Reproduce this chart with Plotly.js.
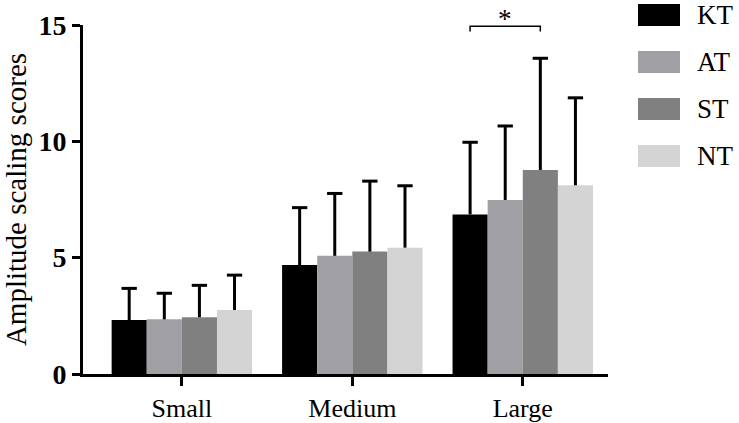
<!DOCTYPE html>
<html>
<head>
<meta charset="utf-8">
<script src="https://cdn.plot.ly/plotly-3.0.1.min.js"></script>
<style>html,body{margin:0;padding:0;background:#fff;}#chart{width:739px;height:423px;}</style>
</head>
<body>
<div id="chart"></div>
<script>
const categories = ["Small", "Medium", "Large"];
const seriesNames = ["KT", "AT", "ST", "NT"];
const KT = [2.32, 4.68, 6.86];
const AT = [2.35, 5.08, 7.48];
const ST = [2.44, 5.26, 8.77];
const NT = [2.75, 5.43, 8.11];
const KT_err = [1.36, 2.47, 3.10];
const AT_err = [1.12, 2.68, 3.18];
const ST_err = [1.37, 3.03, 4.80];
const NT_err = [1.50, 2.66, 3.76];
const yTicks = [0, 5, 10, 15];
const sigLabel = "*";

const values = [KT, AT, ST, NT];
const errs = [KT_err, AT_err, ST_err, NT_err];
const colors = ["#000000", "#a0a0a4", "#808080", "#d4d4d4"];
const serif = "Liberation Serif, Times New Roman, serif";
const bargap = 0.176;
const w = (1 - bargap) / 4;
const capHalf = 0.045;

const traces = seriesNames.map((n, i) => ({
  type: "bar", name: n, x: categories, y: values[i],
  marker: {color: colors[i], line: {width: 0}},
  error_y: {type: "data", symmetric: false, array: errs[i], arrayminus: values[i].map(() => 0),
            color: "#000", thickness: 3, width: 0},
  showlegend: false
}));

const shapes = [];
// error bar caps, positioned from the data on the category axis
values.forEach((vals, i) => {
  vals.forEach((v, j) => {
    const xc = j + (i - 1.5) * w;
    const top = v + errs[i][j];
    shapes.push({type: "line", xref: "x", yref: "y", x0: xc - capHalf, x1: xc + capHalf,
      y0: top, y1: top, line: {color: "#000", width: 3}});
  });
});

// significance bracket between KT and ST in "Large"
const gi = categories.indexOf("Large");
const xa = gi + (0 - 1.5) * w, xb = gi + (2 - 1.5) * w;
shapes.push({
  type: "path", xref: "x", yref: "y",
  path: `M ${xa},14.72 L ${xa},14.95 L ${xb},14.95 L ${xb},14.72`,
  line: {color: "#000", width: 1.5}
});
const annotations = [{
  x: (xa + xb) / 2, y: 1.018, xref: "x", yref: "paper", text: sigLabel, showarrow: false,
  yanchor: "middle", font: {family: serif, size: 27, color: "#000"}
}];

// manual legend (large swatches)
const legTop = [4, 51, 98, 145];
const pH = 349, pW = 525, t = 25;
seriesNames.forEach((n, i) => {
  const y0 = 1 - (legTop[i] + 22 - t) / pH, y1 = 1 - (legTop[i] - t) / pH;
  shapes.push({type: "rect", xref: "paper", yref: "paper",
    x0: (638 - 83) / pW, x1: (680 - 83) / pW, y0: y0, y1: y1,
    fillcolor: colors[i], line: {width: 0}});
  annotations.push({xref: "paper", yref: "paper", x: (695 - 83) / pW, y: (y0 + y1) / 2,
    xanchor: "left", yanchor: "middle", text: n, showarrow: false,
    font: {family: serif, size: 27, color: "#000"}});
});

const layout = {
  width: 739, height: 423,
  margin: {l: 83, r: 131, t: 25, b: 49},
  paper_bgcolor: "#fff", plot_bgcolor: "#fff",
  barmode: "group", bargap: bargap, bargroupgap: 0,
  xaxis: {
    range: [-0.58, 2.5], showgrid: false, zeroline: false,
    showline: true, linecolor: "#000", linewidth: 3,
    ticks: "outside", ticklen: 9, tickwidth: 3, tickcolor: "#000",
    tickfont: {family: serif, size: 26, color: "#000"}
  },
  yaxis: {
    range: [0, 15], showgrid: false, zeroline: false,
    showline: true, linecolor: "#000", linewidth: 3,
    ticks: "outside", ticklen: 8, tickwidth: 3, tickcolor: "#000",
    tickvals: yTicks, ticktext: yTicks.map(v => "<b>" + v + "</b>"),
    tickfont: {family: serif, size: 28, color: "#000"},
    title: {text: "Amplitude scaling scores", font: {family: serif, size: 29, color: "#000"}, standoff: 6}
  },
  shapes: shapes, annotations: annotations
};

Plotly.newPlot("chart", traces, layout, {displayModeBar: false, staticPlot: true});
</script>
</body>
</html>
